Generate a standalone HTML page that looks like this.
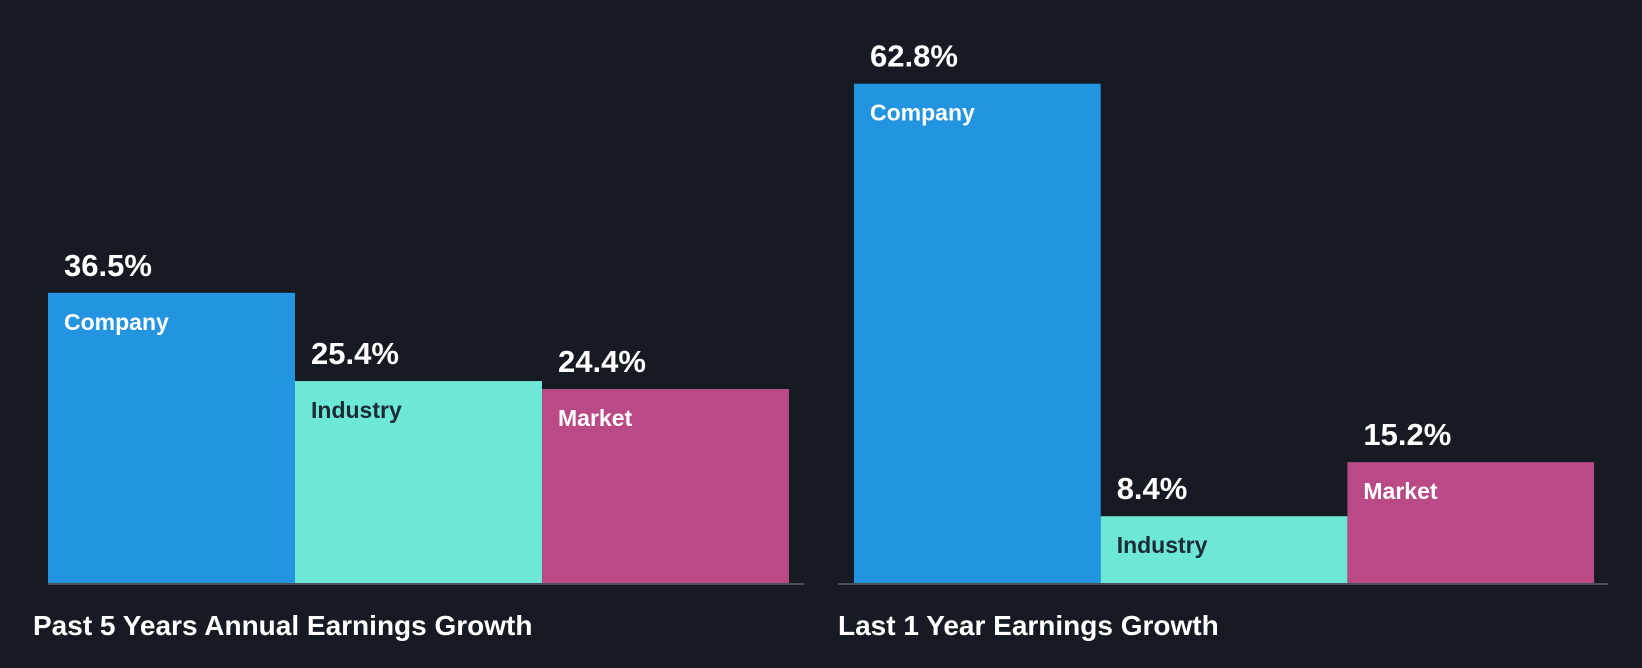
<!DOCTYPE html>
<html><head><meta charset="utf-8"><style>
html,body{margin:0;padding:0;background:#151a23;}
svg{display:block;font-family:"Liberation Sans",Arial,sans-serif;}
</style></head><body>
<svg id="chart" width="1642" height="668" viewBox="0 0 1642 668" xmlns="http://www.w3.org/2000/svg">
<rect width="1642" height="668" fill="#151a23"/>
</svg>
<script>
const categories = ["Company","Industry","Market"];
const past5Values = [36.5, 25.4, 24.4];
const last1Values = [62.8, 8.4, 15.2];
const panelTitles = ["Past 5 Years Annual Earnings Growth","Last 1 Year Earnings Growth"];

const svg = document.getElementById('chart');
const NS = 'http://www.w3.org/2000/svg';
const baseY = 583, pxPerUnit = 7.95;
const y = v => baseY - v * pxPerUnit;
const fills = ["#2394df","#6ee8d6","#b94a85"];
const labelFills = ["#ffffff","#1b2a35","#ffffff"];
const panels = [
  {x0:48, barW:247, axisX1:48, axisX2:804, titleX:33, values:past5Values, name:'past-5-years'},
  {x0:854, barW:246.7, axisX1:838, axisX2:1608, titleX:838, values:last1Values, name:'last-1-year'}
];
function mk(tag, attrs, text){
  const e = document.createElementNS(NS, tag);
  for (const k in attrs) e.setAttribute(k, attrs[k]);
  if (text !== undefined) e.textContent = text;
  svg.appendChild(e); return e;
}
panels.forEach((p, pi) => {
  p.values.forEach((v, i) => {
    const x = p.x0 + i * p.barW;
    const r = mk('rect', {x:x, y:y(v), width:p.barW, height:baseY - y(v), fill:fills[i]});
    
    
    const t = mk('text', {x:x + 16, y:y(v) - 17, fill:'#ffffff', 'font-size':31, 'font-weight':'bold'}, v.toFixed(1) + '%');
    
    
    const c = mk('text', {x:x + 16, y:y(v) + 37, fill:labelFills[i], 'font-size':23, 'font-weight':'bold'}, categories[i]);
    
    
  });
  const a = mk('line', {x1:p.axisX1, x2:p.axisX2, y1:baseY + 1, y2:baseY + 1, stroke:'#4a4f58', 'stroke-width':2});
  
  
  const tt = mk('text', {x:p.titleX, y:635, fill:'#ffffff', 'font-size':28, 'font-weight':'bold'}, panelTitles[pi]);
  
  
});
</script>
</body></html>
